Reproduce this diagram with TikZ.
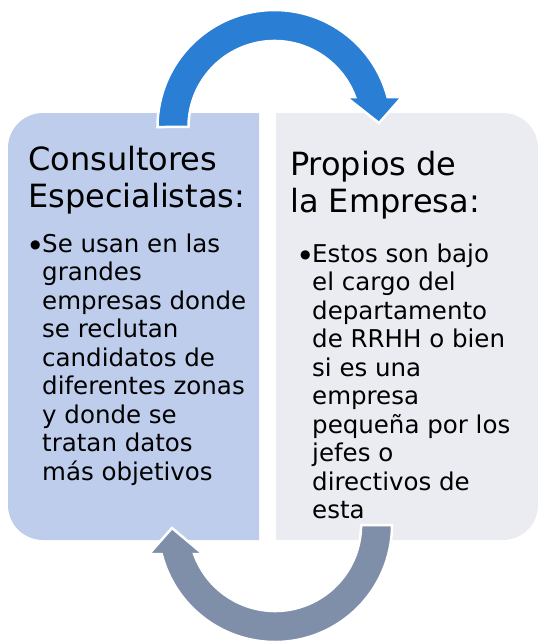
\documentclass[tikz,border=0pt]{standalone}
\usepackage{fontspec}
\setmainfont{DejaVu Sans}
\definecolor{leftfill}{HTML}{BDCDEB}
\definecolor{rightfill}{HTML}{EBECF1}
\definecolor{toparrow}{HTML}{2A7FD5}
\definecolor{botarrow}{HTML}{7F8FAA}
\newcommand{\bodyfont}{\fontsize{24.5pt}{28.5pt}\selectfont}
\newcommand{\titlefont}{\fontsize{32pt}{37pt}\selectfont}
\newcommand{\bul}{\makebox[12pt][l]{\raisebox{4pt}{\fontsize{12pt}{12pt}\selectfont ●}}}
\tikzset{
  titletext/.style={anchor=base west, inner sep=0pt, text=black},
  bodytext/.style={anchor=base west, inner sep=0pt, text=black},
  cyclearrow/.style={draw=white, line width=2.5pt, line join=miter}
}
\begin{document}
\begin{tikzpicture}[x=1pt,y=1pt]
\useasboundingbox (0,0) rectangle (538,-641);
% boxes
\fill[leftfill] (259,-113) -- (43,-113) arc[start angle=90,end angle=180,radius=35]
  -- (8,-505) arc[start angle=180,end angle=270,radius=35] -- (259,-540) -- cycle;
\fill[rightfill] (276,-113) -- (503,-113) arc[start angle=90,end angle=0,radius=35]
  -- (538,-505) arc[start angle=0,end angle=-90,radius=35] -- (276,-540) -- cycle;
% top arrow
\filldraw[cyclearrow, fill=toparrow] (157.5,-127) arc[start angle=180,end angle=14.86,radius=117]
  -- (402,-97) -- (379,-123) -- (346,-97) -- (355.1,-97)
  arc[start angle=20.4,end angle=180,radius=86] -- cycle;
% bottom arrow
\filldraw[cyclearrow, fill=botarrow] (392,-525) arc[start angle=0,end angle=-165.65,radius=117]
  -- (149,-554) -- (172,-528) -- (203,-554) -- (194.1,-554)
  arc[start angle=-160.3,end angle=0,radius=86] -- cycle;
% texts
\node[titletext] (lt) at (28,-170) {\parbox[t]{235pt}{\titlefont Consultores\newline Especialistas:}};
\node[titletext] (rt) at (290,-175) {\parbox[t]{245pt}{\titlefont Propios de\newline la Empresa:}};
\node[bodytext] (lb) at (30,-252) {\parbox[t]{228pt}{\bodyfont\hangindent=12pt\hangafter=1
  \bul Se usan en las\newline grandes\newline empresas donde\newline se reclutan\newline candidatos de\newline diferentes zonas\newline y donde se\newline tratan datos\newline más objetivos}};
\node[bodytext] (rb) at (300,-262) {\parbox[t]{236pt}{\bodyfont\hangindent=12pt\hangafter=1
  \bul Estos son bajo\newline el cargo del\newline departamento\newline de RRHH o bien\newline si es una\newline empresa\newline pequeña por los\newline jefes o\newline directivos de\newline esta}};
\end{tikzpicture}
\end{document}
